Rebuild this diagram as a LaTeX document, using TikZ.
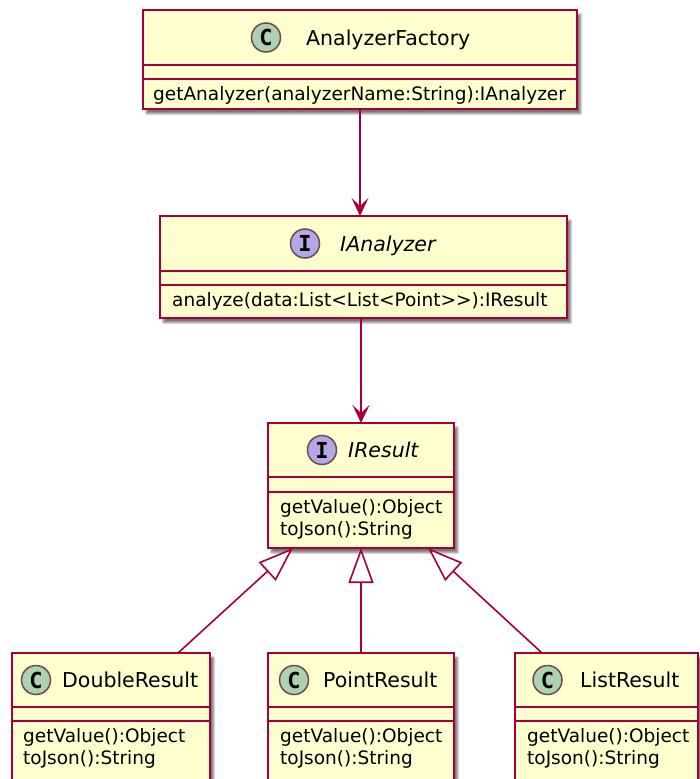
\documentclass[tikz,border=0pt]{standalone}
\usepackage{fontspec}
\setmainfont{DejaVu Sans}
\newfontfamily\circfont{DejaVu Sans Mono}
\usetikzlibrary{arrows.meta,shadows.blur,calc}
\definecolor{umlred}{HTML}{A80036}
\definecolor{umlfill}{HTML}{FEFECE}
\definecolor{cfill}{HTML}{ADD1B2}
\definecolor{ifill}{HTML}{B4A7E5}
\definecolor{circborder}{HTML}{6E4A4A}
\begin{document}
\begin{tikzpicture}[x=1pt,y=-1pt,
 box/.style={draw=umlred, fill=umlfill, line width=1.8pt, inner sep=0pt, outer sep=0pt, anchor=north west,
   blur shadow={shadow xshift=3.5pt, shadow yshift=-4.5pt, shadow blur steps=6, shadow opacity=55}},
 div/.style={draw=umlred, line width=1.5pt},
 badge/.style={circle, draw=circborder, line width=1.5pt, minimum size=29pt, inner sep=0pt,
   font=\circfont\bfseries\fontsize{22}{22}\selectfont},
 cbadge/.style={badge, fill=cfill},
 ibadge/.style={badge, fill=ifill},
 cname/.style={anchor=west, inner sep=0pt, font=\fontsize{20.5}{24}\selectfont, text height=15pt, text depth=0pt},
 iname/.style={cname, font=\fontsize{20.5}{24}\selectfont\itshape},
 member/.style={anchor=base west, inner sep=0pt, font=\fontsize{18.5}{22}\selectfont},
 assoc/.style={draw=umlred, line width=1.6pt, -{Stealth[length=18pt,width=17pt,inset=8pt]}},
 inherit/.style={draw=umlred, line width=1.6pt, -{Triangle[length=35pt,width=25pt,fill=white]}},
]
\useasboundingbox (0,0) rectangle (700,779);
\clip (0,0) rectangle (700,779);

% AnalyzerFactory
\node[box, minimum width=434pt, minimum height=99pt] (af) at (143,10) {};
\draw[div] ($(af.north west)+(0,55)$) -- ($(af.north east)+(0,55)$);
\draw[div] ($(af.north west)+(0,69)$) -- ($(af.north east)+(0,69)$);
\node[cbadge] (afc) at (266,37.5) {C};
\node[cname] (afn) at (306,37.5) {AnalyzerFactory};
\node[member] (afm) at (153,100) {getAnalyzer(analyzerName:String):IAnalyzer};

% IAnalyzer
\node[box, minimum width=407pt, minimum height=102pt] (ia) at (160,216) {};
\draw[div] ($(ia.north west)+(0,55)$) -- ($(ia.north east)+(0,55)$);
\draw[div] ($(ia.north west)+(0,69)$) -- ($(ia.north east)+(0,69)$);
\node[ibadge] (iac) at (305,243.5) {I};
\node[iname] (ian) at (340,243.5) {IAnalyzer};
\node[member] (iam) at (172,306) {analyze(data:List<List<Point>{}>):IResult};

% IResult
\node[box, minimum width=186pt, minimum height=125pt] (ir) at (268,423) {};
\draw[div] ($(ir.north west)+(0,54)$) -- ($(ir.north east)+(0,54)$);
\draw[div] ($(ir.north west)+(0,69)$) -- ($(ir.north east)+(0,69)$);
\node[ibadge] (irc) at (322,450) {I};
\node[iname] (irn) at (348,450) {IResult};
\node[member] (irm1) at (280,513) {getValue():Object};
\node[member] (irm2) at (280,535) {toJson():String};

% DoubleResult
\node[box, minimum width=198pt, minimum height=150pt] (dr) at (12,653) {};
\draw[div] ($(dr.north west)+(0,54)$) -- ($(dr.north east)+(0,54)$);
\draw[div] ($(dr.north west)+(0,68)$) -- ($(dr.north east)+(0,68)$);
\node[cbadge] (drc) at (36,680) {C};
\node[cname] (drn) at (62,680) {DoubleResult};
\node[member] (drm1) at (23,742) {getValue():Object};
\node[member] (drm2) at (23,764) {toJson():String};

% PointResult
\node[box, minimum width=186pt, minimum height=150pt] (pr) at (268,653) {};
\draw[div] ($(pr.north west)+(0,54)$) -- ($(pr.north east)+(0,54)$);
\draw[div] ($(pr.north west)+(0,68)$) -- ($(pr.north east)+(0,68)$);
\node[cbadge] (prc) at (294,680) {C};
\node[cname] (prn) at (323,680) {PointResult};
\node[member] (prm1) at (280,742) {getValue():Object};
\node[member] (prm2) at (280,764) {toJson():String};

% ListResult
\node[box, minimum width=183pt, minimum height=150pt] (lr) at (515,653) {};
\draw[div] ($(lr.north west)+(0,54)$) -- ($(lr.north east)+(0,54)$);
\draw[div] ($(lr.north west)+(0,68)$) -- ($(lr.north east)+(0,68)$);
\node[cbadge] (lrc) at (547.5,680) {C};
\node[cname] (lrn) at (580,680) {ListResult};
\node[member] (lrm1) at (527,742) {getValue():Object};
\node[member] (lrm2) at (527,764) {toJson():String};

% connectors
\draw[assoc] (af.south) -- (af.south |- ia.north);
\draw[assoc] (ir.north |- ia.south) -- (ir.north);
\draw[inherit] (pr.north) -- (ir.south);
\draw[inherit] ($(dr.north west)+(166,0)$) -- ($(ir.south west)+(25,0)$);
\draw[inherit] ($(lr.north west)+(27,0)$) -- ($(ir.south west)+(160,0)$);
\end{tikzpicture}
\end{document}
